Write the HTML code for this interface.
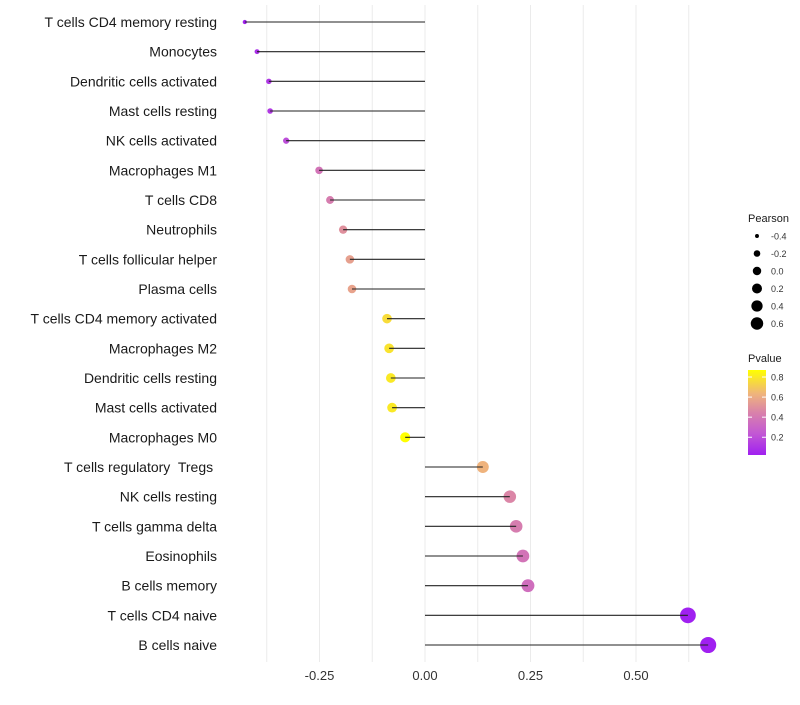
<!DOCTYPE html>
<html><head><meta charset="utf-8"><style>
body{margin:0;background:#fff;font-family:"Liberation Sans",sans-serif}
text{white-space:pre}
</style></head><body>
<svg id="chart" width="800" height="700" xmlns="http://www.w3.org/2000/svg" font-family="Liberation Sans, sans-serif">
<defs><linearGradient id="pg" x1="0" y1="1" x2="0" y2="0">
<stop offset="0" stop-color="#a020f0"/><stop offset="0.25" stop-color="#c257d4"/><stop offset="0.5" stop-color="#d982aa"/><stop offset="0.72" stop-color="#efb47c"/><stop offset="1" stop-color="#ffff00"/>
</linearGradient></defs>
<g id="grid"></g><g id="marks"></g><g id="labels"></g><g id="legend"></g>
</svg>
<script>
const categories=["T cells CD4 memory resting","Monocytes","Dendritic cells activated","Mast cells resting","NK cells activated","Macrophages M1","T cells CD8","Neutrophils","T cells follicular helper","Plasma cells","T cells CD4 memory activated","Macrophages M2","Dendritic cells resting","Mast cells activated","Macrophages M0","T cells regulatory  Tregs ","NK cells resting","T cells gamma delta","Eosinophils","B cells memory","T cells CD4 naive","B cells naive"];
const pearson=[-0.427,-0.398,-0.370,-0.367,-0.329,-0.251,-0.225,-0.194,-0.178,-0.173,-0.090,-0.085,-0.081,-0.078,-0.047,0.137,0.201,0.216,0.232,0.244,0.623,0.671];
const pvalue=[0.03,0.08,0.11,0.12,0.2,0.38,0.42,0.5,0.56,0.57,0.76,0.78,0.80,0.80,0.87,0.63,0.46,0.42,0.38,0.35,0.025,0.023];
const xTicks=[-0.25,0,0.25,0.5];
const xTickLabels=["-0.25","0.00","0.25","0.50"];
const sizeLegend=[-0.4,-0.2,0.0,0.2,0.4,0.6];
const pLegend=[0.2,0.4,0.6,0.8];
const NS="http://www.w3.org/2000/svg";
const X=v=>425+v*422;
const Y=i=>22+i*(623/21);
const R=v=>Math.sqrt(Math.max(3,28+55*v));
const PY=p=>455-(p-0.023)*(85/(0.87-0.023));
const stops=[[0,[160,32,240]],[0.25,[194,87,212]],[0.5,[217,130,170]],[0.72,[239,180,124]],[1,[255,255,0]]];
function col(p){let t=(p-0.023)/(0.87-0.023);t=Math.max(0,Math.min(1,t));for(let k=1;k<stops.length;k++){if(t<=stops[k][0]){const a=stops[k-1],b=stops[k];const f=(t-a[0])/(b[0]-a[0]);const c=a[1].map((v,j)=>Math.round(v+(b[1][j]-v)*f));return `rgb(${c})`;}}return "rgb(255,255,0)";}
function mk(tag,attrs,parent,text){const e=document.createElementNS(NS,tag);for(const k in attrs)e.setAttribute(k,attrs[k]);if(text!==undefined)e.textContent=text;parent.appendChild(e);return e;}
const grid=document.getElementById('grid'),marks=document.getElementById('marks'),labels=document.getElementById('labels'),legend=document.getElementById('legend');
for(let v=-0.375;v<=0.63;v+=0.125){const l=mk('line',{x1:X(v),x2:X(v),y1:5,y2:662,stroke:'#ebebeb','stroke-width':1},grid);

}
xTicks.forEach((v,i)=>{const t=mk('text',{x:X(v),y:680,'text-anchor':'middle','font-size':13,fill:'#333'},labels,xTickLabels[i]);

});
categories.forEach((c,i)=>{const y=Y(i);
const t=mk('text',{x:217,y:y+5,'text-anchor':'end','font-size':14,fill:'#1a1a1a'},labels,c);


const d=mk('circle',{cx:X(pearson[i]),cy:y,r:R(pearson[i]),fill:col(pvalue[i])},marks);


const s=mk('line',{x1:X(0),x2:X(pearson[i]),y1:y,y2:y,stroke:'#222','stroke-width':1.1},marks);

});
let t=mk('text',{x:748,y:222,'font-size':11,fill:'#1a1a1a'},legend,'Pearson');


sizeLegend.forEach((v,i)=>{const y=236+i*17.5;
const c=mk('circle',{cx:757,cy:y,r:R(v)*0.8,fill:'#000'},legend);


const l=mk('text',{x:771,y:y+3.5,'font-size':9,fill:'#333'},legend,v.toFixed(1));

});
t=mk('text',{x:748,y:362,'font-size':11,fill:'#1a1a1a'},legend,'Pvalue');


const bar=mk('rect',{x:748,y:370,width:18,height:85,fill:'url(#pg)'},legend);


pLegend.forEach(p=>{const y=PY(p);
mk('line',{x1:748,x2:752,y1:y,y2:y,stroke:'#fff','stroke-width':1},legend);
mk('line',{x1:762,x2:766,y1:y,y2:y,stroke:'#fff','stroke-width':1},legend);
const l=mk('text',{x:771,y:y+3.5,'font-size':9,fill:'#333'},legend,p.toFixed(1));

});
</script>
</body></html>
